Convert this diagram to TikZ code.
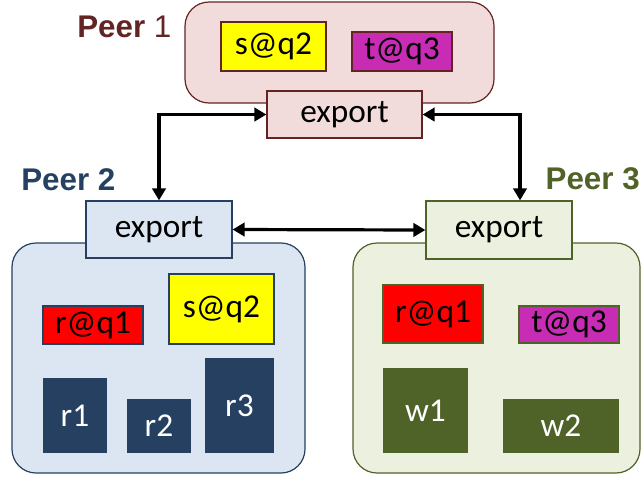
\documentclass[tikz,border=0pt]{standalone}
\usepackage{fontspec}
\setmainfont{Carlito}
\newfontfamily\peerfont{Liberation Sans}
\usepackage{xcolor}
\usetikzlibrary{arrows.meta}

\definecolor{pOneFill}{RGB}{242,220,219}
\definecolor{pOneLine}{RGB}{99,37,35}
\definecolor{pTwoFill}{RGB}{220,230,242}
\definecolor{pTwoLine}{RGB}{37,64,97}
\definecolor{pThreeFill}{RGB}{235,241,222}
\definecolor{pThreeLine}{RGB}{79,98,40}
\definecolor{tagYellow}{RGB}{255,255,0}
\definecolor{tagRed}{RGB}{255,0,0}
\definecolor{tagMagenta}{RGB}{200,44,180}

\begin{document}
\begin{tikzpicture}[x=0.75pt,y=0.75pt,yscale=-1,xscale=1,
  peer/.style={draw, rounded corners=18pt, line width=0.9pt, inner sep=0pt},
  tag/.style={draw, line width=0.9pt, inner sep=0pt, font=\fontsize{25}{30}\selectfont},
  store/.style={inner sep=0pt, text=white, font=\fontsize{25}{30}\selectfont},
  peerlabel/.style={inner sep=0pt, font=\peerfont\fontsize{23.5}{28}\selectfont},
  link/.style={line width=2.4pt, {Triangle[length=9pt,width=10pt]}-{Triangle[length=9pt,width=10pt]}}]
\useasboundingbox (0,0) rectangle (642,476);

%Peer 1
\node [peer, fill=pOneFill, draw=pOneLine, minimum width=231.75pt, minimum height=75.75pt] (peerA) at (339.5,52.5) {};
\node [tag, fill=tagYellow, draw=pOneLine, minimum width=78.75pt, minimum height=36.75pt] (sA) at (273.5,46.5) {s@q2};
\node [tag, fill=tagMagenta, draw=pOneLine, minimum width=75pt, minimum height=29.25pt] (tA) at (402,51.5) {t@q3};
\node [tag, fill=pOneFill, draw=pOneLine, minimum width=116.25pt, minimum height=35.25pt] (expA) at (344.5,114.5) {export};
% Text Node
\node [peerlabel, anchor=base west, text=pOneLine] (labA) at (77,37) {\bfseries Peer \mdseries 1};

%Peer 2
\node [peer, fill=pTwoFill, draw=pTwoLine, minimum width=219.75pt, minimum height=172.5pt] (peerB) at (158.5,358) {};
\node [tag, fill=pTwoFill, draw=pTwoLine, minimum width=109.5pt, minimum height=42.75pt] (expB) at (159,229.5) {export};
\node [tag, fill=tagRed, draw=pTwoLine, minimum width=75pt, minimum height=28.5pt] (rB) at (93,325) {r@q1};
\node [tag, fill=tagYellow, draw=pTwoLine, minimum width=78.75pt, minimum height=52.5pt] (sB) at (221.5,309) {s@q2};
\node [store, fill=pTwoLine, minimum width=48pt, minimum height=56.25pt] (rOne) at (75,415.5) {r1};
\node [store, fill=pTwoLine, minimum width=48pt, minimum height=40.5pt] (rTwo) at (159,426) {r2};
\node [store, fill=pTwoLine, minimum width=51.75pt, minimum height=71.25pt] (rThree) at (239.5,405.5) {r3};
% Text Node
\node [peerlabel, anchor=base west, text=pTwoLine] (labB) at (21,190) {\bfseries Peer 2};

%Peer 3
\node [peer, fill=pThreeFill, draw=pThreeLine, minimum width=215.25pt, minimum height=172.5pt] (peerC) at (496.5,358) {};
\node [tag, fill=pThreeFill, draw=pThreeLine, minimum width=109.5pt, minimum height=43.5pt] (expC) at (499,230) {export};
\node [tag, fill=tagRed, draw=pThreeLine, minimum width=75pt, minimum height=43.5pt] (rC) at (433,314) {r@q1};
\node [tag, fill=tagMagenta, draw=pThreeLine, minimum width=75pt, minimum height=27.75pt] (tC) at (569,324.5) {t@q3};
\node [store, fill=pThreeLine, minimum width=63.75pt, minimum height=63.75pt] (wOne) at (425.5,410.5) {w1};
\node [store, fill=pThreeLine, minimum width=87pt, minimum height=40.5pt] (wTwo) at (561,426) {w2};
% Text Node
\node [peerlabel, anchor=base east, text=pThreeLine] (labC) at (640,189) {\bfseries Peer 3};

%Connectors
\draw [link] (expA.west) -| (expB.north);
\draw [link] (expA.east) -| ([xshift=15.75pt]expC.north);
\draw [link] (expB.east) -- (expC.west);
\end{tikzpicture}
\end{document}
